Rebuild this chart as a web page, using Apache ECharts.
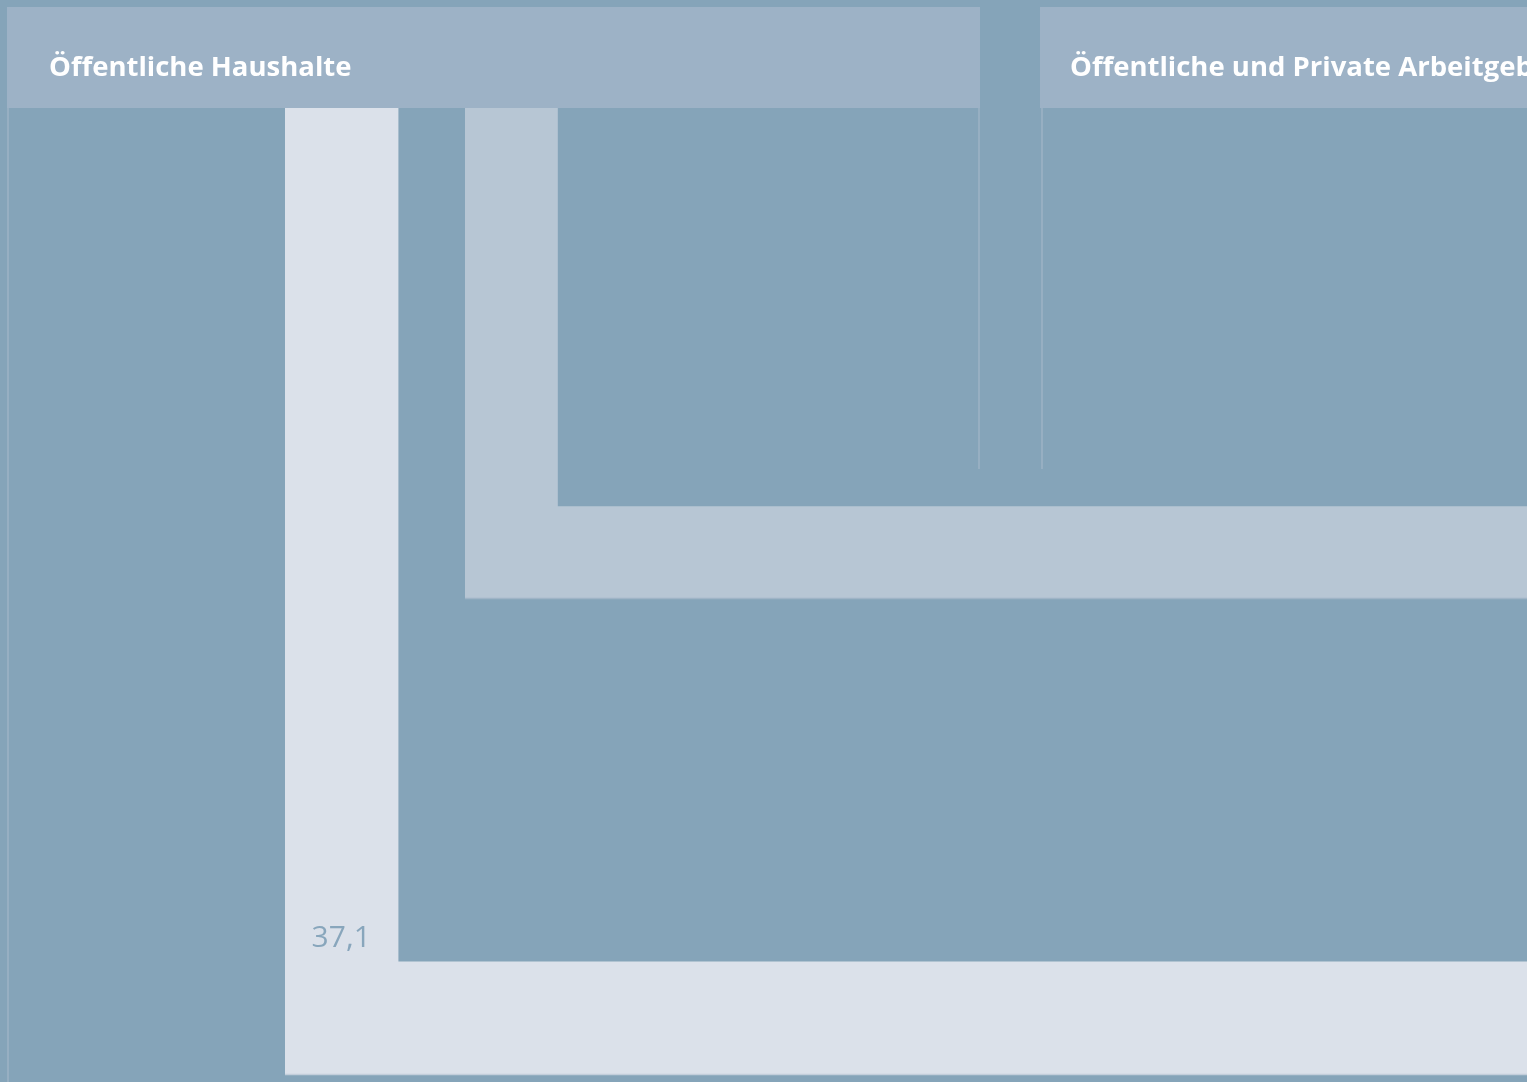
<!DOCTYPE html>
<html>
<head>
<meta charset="utf-8">
<title>Öffentliche Haushalte</title>
<script src="https://cdn.jsdelivr.net/npm/echarts@6/dist/echarts.min.js"></script>
<style>
  html, body { margin: 0; padding: 0; background: #85a4b9; }
  #chart { width: 1527px; height: 1082px; }
</style>
</head>
<body>
<div id="chart"></div>
<script>
// panels (column headers)
var panelNames = ['Öffentliche Haushalte', 'Öffentliche und Private Arbeitgeber']

// flows leaving "Öffentliche Haushalte"
var flowNames = ['Öffentliche Haushalte', 'Öffentliche und Private Arbeitgeber']
var flowValues = [37.1, 30.3]
var flowLabels = ['37,1', '']

// layout (pixels) - not data
var W = 1527
var H = 1082
var PX_PER_UNIT = 3.03
var legLeft = [285, 465]      // left edge of the vertical leg
var turnBottom = [1074, 598]  // bottom edge of the horizontal leg
var bodyTop = 108
var flowColors = ['#dbe1ea', '#b7c6d4']
var flowEdge = ['#c3cedb', '#9fb4c6']
var headerFont = 'bold 27.5px "Open Sans"'

var chart = echarts.init(document.getElementById('chart'))

function renderFlow(params, api) {
  var i = api.value(0)
  var w = api.value(1) * PX_PER_UNIT
  var x0 = legLeft[i]
  var yb = turnBottom[i]
  var yt = yb - w
  var p = function (x, y) { return api.coord([x, y]) }
  var children = [
    {
      type: 'polygon',
      shape: {
        points: [p(x0, bodyTop), p(x0 + w + 1, bodyTop), p(x0 + w + 1, yt), p(W + 10, yt), p(W + 10, yb), p(x0, yb)]
      },
      style: { fill: flowColors[i] }
    },
    {
      type: 'line',
      shape: { x1: p(x0, yb)[0], y1: p(x0, yb)[1] + 0.5, x2: W, y2: p(W, yb)[1] + 0.5 },
      style: { stroke: flowEdge[i], lineWidth: 1.5 }
    }
  ]
  if (flowLabels[i]) {
    var c = p(x0 + w / 2, yt - 23)
    children.push({
      type: 'text',
      x: c[0],
      y: c[1],
      style: {
        text: flowLabels[i],
        fill: '#88a6bc',
        font: '30px "Open Sans"',
        align: 'center',
        verticalAlign: 'middle'
      }
    })
  }
  return { type: 'group', children: children }
}

chart.setOption({
  backgroundColor: '#85a4b9',
  animation: false,
  grid: { left: 0, right: 0, top: 0, bottom: 0 },
  xAxis: { type: 'value', min: 0, max: W, show: false },
  yAxis: { type: 'value', min: 0, max: H, inverse: true, show: false },
  graphic: [
    // header bars
    { type: 'rect', shape: { x: 7, y: 7, width: 973, height: 101 }, style: { fill: '#9db2c6' } },
    { type: 'rect', shape: { x: 1040, y: 7, width: 500, height: 101 }, style: { fill: '#9db2c6' } },
    {
      type: 'text', x: 49, y: 68,
      style: { text: panelNames[0], fill: '#ffffff', font: headerFont, verticalAlign: 'middle' }
    },
    {
      type: 'text', x: 1070, y: 68,
      style: { text: panelNames[1], fill: '#ffffff', font: headerFont, verticalAlign: 'middle' }
    },
    // thin column guides
    { type: 'rect', shape: { x: 7, y: 108, width: 2, height: H - 108 }, style: { fill: '#97afc2' } },
    { type: 'rect', shape: { x: 978, y: 108, width: 2, height: 361 }, style: { fill: '#97afc2' } },
    { type: 'rect', shape: { x: 1041, y: 108, width: 2, height: 361 }, style: { fill: '#97afc2' } }
  ],
  series: [
    {
      type: 'custom',
      name: 'Flows',
      renderItem: renderFlow,
      silent: true,
      z: 3,
      data: flowValues.map(function (v, i) { return { name: flowNames[i], value: [i, v] } })
    }
  ]
})
</script>
</body>
</html>
